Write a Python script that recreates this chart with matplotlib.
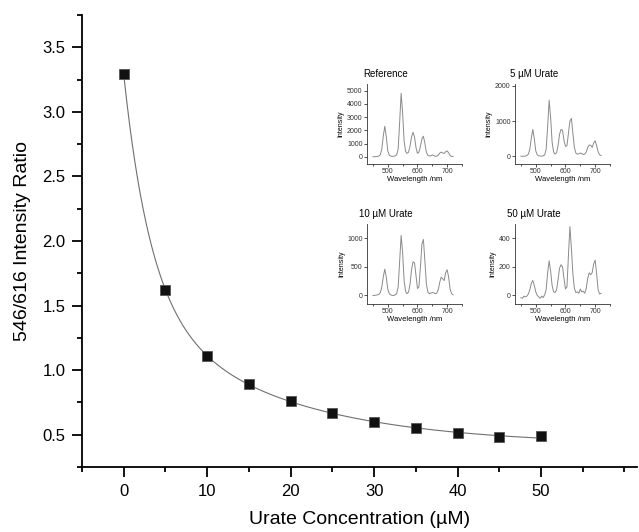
import numpy as np
import matplotlib
matplotlib.use("Agg")
import matplotlib.pyplot as plt
from matplotlib.ticker import MultipleLocator

plt.rcParams['font.family'] = ['Liberation Sans', 'DejaVu Sans']

# main data: intensity ratio vs urate concentration
conc = [0, 5, 10, 15, 20, 25, 30, 35, 40, 45, 50]
ratio = [3.29, 1.62, 1.11, 0.89, 0.76, 0.67, 0.60, 0.55, 0.51, 0.48, 0.49]
xticks_major = [0, 10, 20, 30, 40, 50]
xticks_minor = [-5, 5, 15, 25, 35, 45, 55, 60]

# emission spectra
wl = list(range(450, 721, 5))
spec_ref = [0, 0, 10, 20, 50, 150, 600, 1600, 2300, 1500, 450, 120, 50, 30, 40, 60,
            150, 600, 2600, 4800, 3300, 1200, 400, 250, 350, 800, 1500, 1850, 1500,
            700, 250, 350, 800, 1350, 1550, 1000, 350, 100, 60, 80, 130, 90, 30, 40,
            120, 280, 350, 280, 250, 380, 440, 300, 100, 20, 10]
spec_5 = [0, 0, 0, 5, 20, 60, 200, 520, 760, 500, 150, 40, 10, 5, 5, 10,
          40, 200, 850, 1590, 1100, 400, 120, 60, 100, 300, 620, 760, 740,
          450, 280, 300, 650, 1000, 1075, 650, 250, 90, 60, 70, 90, 75, 50, 60,
          120, 250, 320, 310, 250, 380, 440, 300, 120, 40, 20]
spec_10 = [0, 0, 5, 10, 20, 50, 150, 330, 460, 320, 110, 30, 10, 0, 0, 10,
           30, 150, 600, 1050, 750, 260, 70, 30, 60, 200, 450, 590, 570,
           350, 120, 150, 500, 900, 980, 600, 200, 60, 30, 40, 50, 45, 30, 40,
           100, 230, 320, 290, 260, 400, 450, 320, 110, 30, 10]
spec_50 = [-15, -20, -5, -10, -5, 10, 40, 85, 105, 70, 25, 0, -10, -20, -5, -15,
           5, 40, 160, 242, 170, 70, 25, 20, 40, 110, 190, 215, 200,
           120, 45, 60, 280, 482, 330, 150, 50, 20, 25, 15, 45, 25, 30, 15,
           50, 120, 158, 145, 160, 220, 247, 150, 40, 10, 15]

W, H = 639.0, 532.0
# inset boxes in pixels: left, right, top, bottom
insets = [
    ("Reference", spec_ref, (-550, 5500), 1000, (367, 462, 84, 164)),
    ("5 \u00b5M Urate", spec_5, (-220, 2050), 1000, (515, 610, 84, 164)),
    ("10 \u00b5M Urate", spec_10, (-150, 1250), 500, (367, 462, 224, 304)),
    ("50 \u00b5M Urate", spec_50, (-60, 500), 200, (515, 610, 224, 304)),
]

fig = plt.figure(figsize=(6.39, 5.32), dpi=100)
ax = fig.add_axes([82 / W, 1 - 467 / H, (637 - 82) / W, (467 - 15) / H])

# exponential decay fit (two terms), least squares on a grid of time constants
x = np.array(conc, float)
y = np.array(ratio, float)
best = None
for t1 in np.linspace(1, 12, 45):
    for t2 in np.linspace(5, 80, 60):
        M = np.column_stack([np.ones_like(x), np.exp(-x / t1), np.exp(-x / t2)])
        c, res, _, _ = np.linalg.lstsq(M, y, rcond=None)
        err = np.sum((M @ c - y) ** 2)
        if best is None or err < best[0]:
            best = (err, t1, t2, c)
_, t1, t2, c = best
xf = np.linspace(0, 50, 300)
yf = c[0] + c[1] * np.exp(-xf / t1) + c[2] * np.exp(-xf / t2)

ax.plot(xf, yf, color='#707070', lw=0.8, zorder=2)
ax.plot(conc, ratio, 's', color='#111111', mec='#555555', mew=0.6, ms=7.5, zorder=3)

ax.set_xlim(-5, 61.5)
ax.set_ylim(0.25, 3.75)
ax.set_xticks(xticks_major)
ax.set_xticks(xticks_minor, minor=True)
ax.yaxis.set_major_locator(MultipleLocator(0.5))
ax.yaxis.set_minor_locator(MultipleLocator(0.25))
ax.spines['top'].set_visible(False)
ax.spines['right'].set_visible(False)
for s in ['left', 'bottom']:
    ax.spines[s].set_linewidth(1.3)
ax.tick_params(which='major', direction='out', length=7, width=1.3, labelsize=12, pad=5)
ax.tick_params(which='minor', direction='out', length=3.8, width=1.3)
ax.set_xlabel("Urate Concentration (\u00b5M)", fontsize=14, labelpad=9)
ax.set_ylabel("546/616 Intensity Ratio", fontsize=14, labelpad=8)

for title, spec, ylim, ystep, (l, r, t, b) in insets:
    a = fig.add_axes([l / W, 1 - b / H, (r - l) / W, (b - t) / H])
    a.plot(wl, spec, color='#8a8a8a', lw=0.7)
    a.set_xlim(430, 750)
    a.set_ylim(*ylim)
    a.xaxis.set_major_locator(MultipleLocator(100))
    a.xaxis.set_minor_locator(MultipleLocator(50))
    a.yaxis.set_major_locator(MultipleLocator(ystep))
    a.spines['top'].set_visible(False)
    a.spines['right'].set_visible(False)
    for s in ['left', 'bottom']:
        a.spines[s].set_linewidth(0.6)
        a.spines[s].set_color('#333333')
    a.tick_params(which='major', direction='out', length=2, width=0.6, labelsize=5, pad=1.2, colors='#333333')
    a.tick_params(which='minor', direction='out', length=1.2, width=0.6, colors='#333333')
    a.set_title(title, fontsize=7, pad=5, x=0.2)
    a.set_xlabel("Wavelength /nm", fontsize=5.5, labelpad=0.5)
    a.set_ylabel("Intensity", fontsize=5, labelpad=1.5)

fig.savefig("out.png", dpi=100)
